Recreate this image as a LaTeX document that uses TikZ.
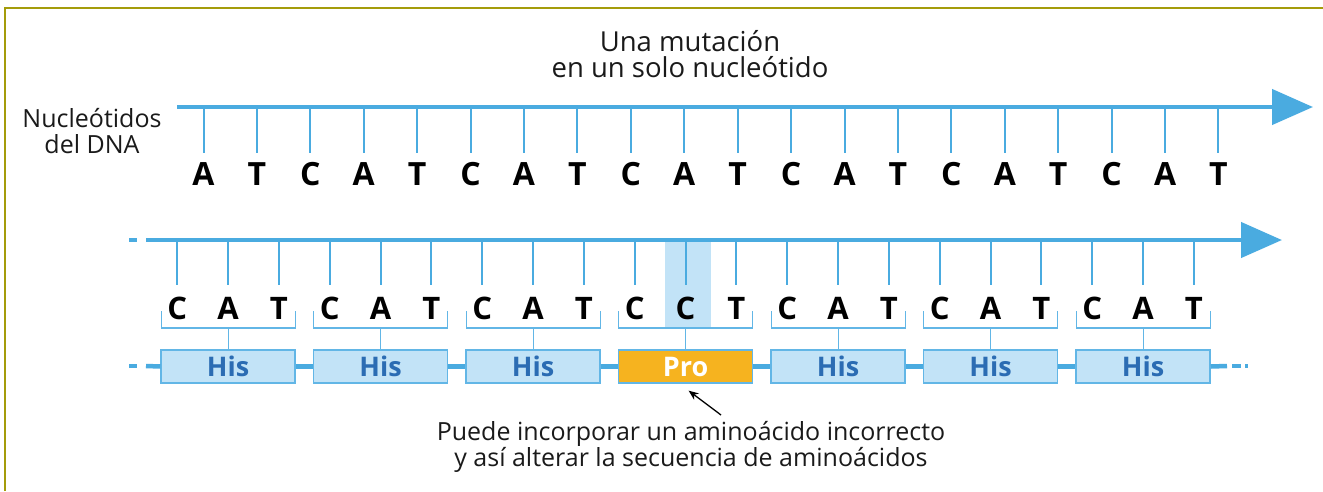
\documentclass[tikz,border=0pt]{standalone}
\usepackage{fontspec}
\setmainfont{Open Sans}
\usetikzlibrary{arrows.meta,calc}
\definecolor{dnablue}{HTML}{4AABE0}
\definecolor{dnapale}{HTML}{C2E3F7}
\definecolor{dnaedge}{HTML}{62B6E6}
\definecolor{dnadark}{HTML}{2B6CB3}
\definecolor{dnaorange}{HTML}{F6B31F}
\definecolor{dnaolive}{HTML}{A49C0A}
\definecolor{dnaink}{HTML}{1A1A1A}
\tikzset{
  dna text/.style={font=\fontsize{25}{26}\selectfont, text=dnaink, align=center},
  dna title/.style={dna text, font=\fontsize{27.5}{26.5}\selectfont},
  dna strand/.style={draw=dnablue, line width=4.5pt},
  dna arrow/.style={dna strand, -{Triangle[length=41pt,width=35pt]}},
  dna tick/.style={draw=dnablue, line width=2pt},
  dna base/.style={font=\fontsize{32}{32}\selectfont\bfseries, text=black, inner sep=0pt, anchor=base},
  dna bracket/.style={draw=dnaedge, line width=1.2pt},
  aa box/.style={draw=dnaedge, line width=1.3pt, minimum width=134pt, minimum height=33pt,
    inner sep=0pt, font=\fontsize{27}{27}\selectfont\bfseries},
  aa chain/.style={draw=dnablue, line width=4.5pt},
  note arrow/.style={-{Stealth[length=10pt,width=8pt]}, line width=1.3pt, draw=black}
}
\begin{document}
\begin{tikzpicture}[x=1pt, y=-1pt]
  \useasboundingbox (0,0) rectangle (1323,491);
  \draw[dnaolive, line width=2pt] (5,491) -- (5,8) -- (1323,8);

  \node[dna title] (title) at (690,54) {Una mutación\\en un solo nucleótido};
  \node[dna text] (label) at (92,131) {Nucleótidos\\del DNA};

  % original strand
  \coordinate (s1a) at (177,107);
  \coordinate (s1b) at (1313,107);
  \draw[dna arrow] (s1a) -- (s1b);
  \foreach \b [count=\i from 0] in {A,T,C,A,T,C,A,T,C,A,T,C,A,T,C,A,T,C,A,T}{
    \coordinate (u\i) at ({203.5+53.42*\i},107);
    \node[dna base] (top\i) at ({203.5+53.42*\i},185) {\b};
    \draw[dna tick, shorten >=9pt] (u\i) -- (top\i.north);
  }

  % mutated strand
  \fill[dnapale] (665,242) rectangle (711,328);
  \coordinate (s2d) at (129,240);
  \coordinate (s2e) at (137,240);
  \coordinate (s2a) at (146,240);
  \coordinate (s2b) at (1282,240);
  \draw[dna strand] (s2d) -- (s2e);
  \draw[dna arrow] (s2a) -- (s2b);
  \foreach \b [count=\i from 0] in {C,A,T,C,A,T,C,A,T,C,C,T,C,A,T,C,A,T,C,A,T}{
    \coordinate (w\i) at ({177.3+50.83*\i},240);
    \node[dna base, font=\fontsize{31}{31}\selectfont\bfseries] (bot\i) at ({177.3+50.83*\i},319.5) {\b};
    \draw[dna tick, shorten >=12pt] (w\i) -- (bot\i.north);
  }

  % amino acid chain
  \coordinate (c0) at (129,366);
  \coordinate (c1) at (137,366);
  \coordinate (cl) at (146,366);
  \coordinate (cr) at (1227,366);
  \coordinate (c2) at (1232,366);
  \coordinate (c3) at (1241,366);
  \coordinate (c4) at (1245,366);
  \coordinate (c5) at (1248,366);
  \draw[aa chain] (c0) -- (c1);
  \draw[aa chain] (c2) -- (c3);
  \draw[aa chain] (c4) -- (c5);
  \foreach \aa/\fillc/\textc [count=\k from 0] in {His/dnapale/dnadark,His/dnapale/dnadark,
      His/dnapale/dnadark,Pro/dnaorange/white,His/dnapale/dnadark,His/dnapale/dnadark,His/dnapale/dnadark}{
    \node[aa box, fill=\fillc, text=\textc] (aa\k) at ({228.1+152.5*\k},366.5) {\aa};
    \draw[dna bracket] ({228.1+152.5*\k-67},311) -- ({228.1+152.5*\k-67},328)
      -- ({228.1+152.5*\k+67},328) -- ({228.1+152.5*\k+67},311);
    \coordinate (br\k) at ({228.1+152.5*\k},328);
    \draw[dna bracket] (br\k) -- (aa\k.north);
  }
  \draw[aa chain] (cl) -- (aa0.west);
  \foreach \k [evaluate=\k as \n using int(\k+1)] in {0,...,5}{
    \draw[aa chain] (aa\k.east) -- (aa\n.west);
  }
  \draw[aa chain] (aa6.east) -- (cr);

  \node[dna text] (note) at (691,447) {Puede incorporar un aminoácido incorrecto\\y así alterar la secuencia de aminoácidos};
  \coordinate (notetail) at (721,415);
  \draw[note arrow] (notetail) -- ([shift={(3pt,-7pt)}]aa3.south);
\end{tikzpicture}
\end{document}
